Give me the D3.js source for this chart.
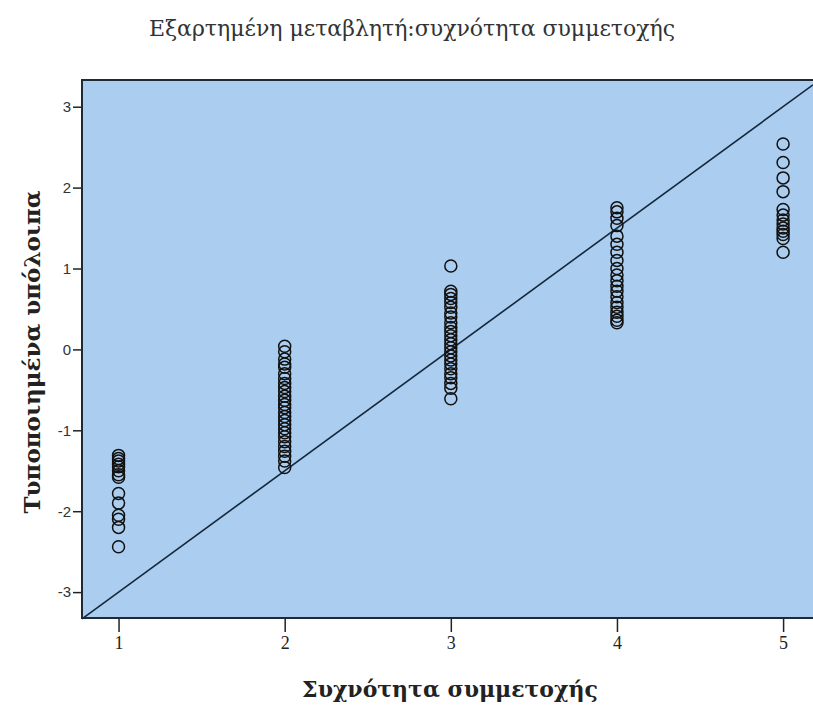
<!DOCTYPE html>
<html>
<head>
<meta charset="utf-8">
<script src="https://cdn.jsdelivr.net/npm/d3@7"></script>
<style>
  body { margin: 0; background: #fff; }
  svg { display: block; }
  .ytick text { font-family: "Liberation Sans", Arial, sans-serif; font-size: 15px; fill: #333; }
  .xtick text { font-family: "Liberation Serif", "Times New Roman", serif; font-size: 18px; fill: #222; }
  .tick line { stroke: #222; stroke-width: 1.5; }
  .domain { display: none; }
</style>
</head>
<body>
<div id="chart"></div>
<script>
// categories on the x axis
const categories = [1, 2, 3, 4, 5];
// standardized residuals for each category
const res1 = [-1.31, -1.35, -1.38, -1.42, -1.45, -1.5, -1.55, -1.58, -1.78, -1.9, -2.05, -2.1, -2.2, -2.44];
const res2 = [0.04, -0.03, -0.12, -0.18, -0.22, -0.3, -0.36, -0.42, -0.47, -0.52, -0.58, -0.63, -0.68, -0.72,
              -0.78, -0.83, -0.88, -0.93, -0.98, -1.03, -1.08, -1.14, -1.2, -1.26, -1.32, -1.38, -1.46];
const res3 = [1.03, 0.72, 0.68, 0.63, 0.58, 0.52, 0.45, 0.4, 0.33, 0.27, 0.22, 0.17, 0.12, 0.07, 0.02,
              -0.03, -0.08, -0.13, -0.18, -0.24, -0.3, -0.35, -0.42, -0.48, -0.61];
const res4 = [1.75, 1.7, 1.62, 1.53, 1.4, 1.3, 1.2, 1.1, 1.0, 0.92, 0.85, 0.78, 0.72, 0.65, 0.58, 0.52,
              0.46, 0.41, 0.36, 0.33];
const res5 = [2.54, 2.31, 2.12, 1.95, 1.73, 1.66, 1.6, 1.55, 1.5, 1.46, 1.42, 1.37, 1.2];
const yTicks = [-3, -2, -1, 0, 1, 2, 3];
// reference line y = slope*x + intercept
const lineSlope = 1.5;
const lineIntercept = -4.5;

const w = 813;
const h = 706;
const pLeft = 82, pTop = 80, pRight = 813, pBottom = 618;

const points = [];
[res1, res2, res3, res4, res5].forEach((arr, i) => {
  arr.forEach(v => points.push([categories[i], v]));
});

const svg = d3.select("#chart").append("svg")
  .attr("width", w)
  .attr("height", h);

const xScale = d3.scaleLinear().domain([0.78, 5.18]).range([pLeft, pRight]);
const yScale = d3.scaleLinear().domain([-3.32, 3.33]).range([pBottom, pTop]);

// plot background
svg.append("rect")
  .attr("x", pLeft)
  .attr("y", pTop)
  .attr("width", pRight - pLeft)
  .attr("height", pBottom - pTop)
  .attr("fill", "#abcdf0");

// reference line
const xd = xScale.domain();
svg.append("line")
  .attr("x1", xScale(xd[0]))
  .attr("y1", yScale(lineSlope * xd[0] + lineIntercept))
  .attr("x2", xScale(xd[1]))
  .attr("y2", yScale(lineSlope * xd[1] + lineIntercept))
  .attr("stroke", "#14283c")
  .attr("stroke-width", 1.6);

svg.selectAll("circle")
  .data(points)
  .enter()
  .append("circle")
  .attr("cx", d => xScale(d[0]))
  .attr("cy", d => yScale(d[1]))
  .attr("r", 6)
  .attr("fill", "none")
  .attr("stroke", "#111")
  .attr("stroke-width", 1.5);

// frame
svg.append("path")
  .attr("d", `M${pRight},${pTop}H${pLeft}V${pBottom}H${pRight}`)
  .attr("fill", "none")
  .attr("stroke", "#1e2a36")
  .attr("stroke-width", 2);

svg.append("g")
  .attr("class", "ytick")
  .attr("transform", "translate(" + (pLeft - 1) + ",0)")
  .call(d3.axisLeft(yScale).tickValues(yTicks).tickSize(8).tickPadding(2).tickFormat(d => String(d)));

svg.append("g")
  .attr("class", "xtick")
  .attr("transform", "translate(0," + (pBottom + 1) + ")")
  .call(d3.axisBottom(xScale).tickValues(categories).tickSize(13).tickPadding(4).tickFormat(d => String(d)));

svg.append("text")
  .attr("x", 412)
  .attr("y", 36)
  .attr("text-anchor", "middle")
  .style("font-family", "'DejaVu Serif', serif")
  .style("font-size", "22px")
  .style("fill", "#333")
  .text("Εξαρτημένη μεταβλητή:συχνότητα συμμετοχής");

svg.append("text")
  .attr("x", 450)
  .attr("y", 697)
  .attr("text-anchor", "middle")
  .style("font-family", "'DejaVu Serif', serif")
  .style("font-weight", "bold")
  .style("font-size", "22px")
  .style("fill", "#222")
  .text("Συχνότητα συμμετοχής");

svg.append("text")
  .attr("transform", "translate(40,352) rotate(-90)")
  .attr("text-anchor", "middle")
  .style("font-family", "'DejaVu Serif', serif")
  .style("font-weight", "bold")
  .style("font-size", "23px")
  .style("fill", "#222")
  .text("Τυποποιημένα υπόλοιπα");
</script>
</body>
</html>
